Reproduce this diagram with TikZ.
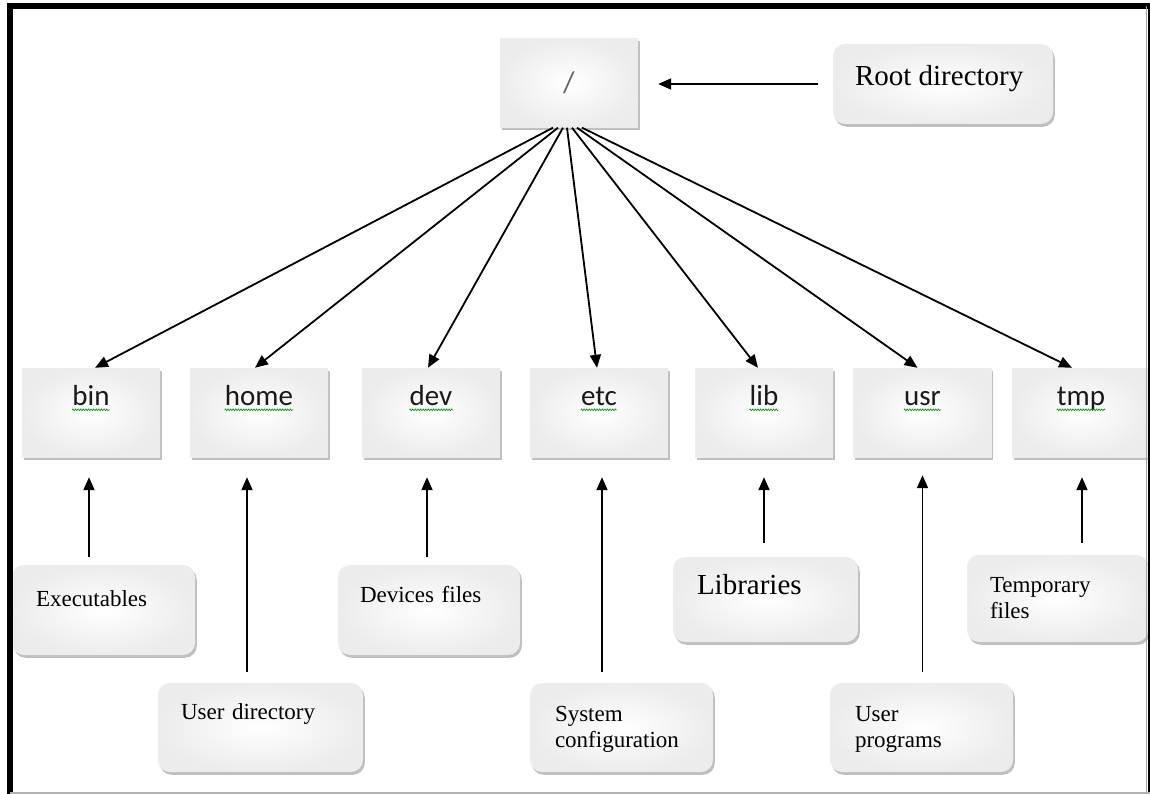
\documentclass[tikz,border=0pt]{standalone}
\usepackage{fontspec}
\setmainfont{Liberation Serif}
\newfontfamily\calib{Carlito}
\usetikzlibrary{arrows.meta,shadows,calc,decorations.pathmorphing}

\tikzset{
  boxfill/.style={shading=radial, inner color=white, outer color=gray!15, draw=none,
    drop shadow={shadow xshift=1.8pt, shadow yshift=-2.8pt, fill=gray!55, opacity=0.9}},
  dirbox/.style={boxfill, rectangle, inner sep=0pt, minimum width=138pt, minimum height=89pt},
  descbox/.style={boxfill, rectangle, rounded corners=12pt, inner sep=0pt},
  dirtxt/.style={font=\calib\fontsize{29}{33}\selectfont, text=black!90, inner sep=0pt, anchor=base},
  desctxt/.style={font=\fontsize{23}{26}\selectfont, inner sep=0pt, anchor=base west,
    text width=160pt, align=left},
  bigtxt/.style={font=\fontsize{29}{33}\selectfont, inner sep=0pt, anchor=base west},
  arr/.style={line width=1.8pt, -{Triangle[length=13pt,width=11pt]}},
  squig/.style={draw=green!55!black, line width=0.6pt, decorate,
    decoration={zigzag, segment length=2.6pt, amplitude=0.9pt}}
}

\begin{document}
\begin{tikzpicture}[x=1pt,y=-1pt]
\useasboundingbox (0,0) rectangle (1150,794);
\fill[white] (0,0) rectangle (1150,794);

% root and its caption
\node[dirbox, font=\calib\fontsize{30}{34}\selectfont, text=black!60] (root) at (569,83) {/};
\node[descbox, minimum width=220pt, minimum height=80pt] (rootdesc) at (943,84) {};
\node[bigtxt] (rootdescT) at ($(rootdesc.north west)+(22pt,-42pt)$) {Root directory};

% directory row
\foreach \n/\x/\t in {bin/91/bin, home/259/home, dev/431/dev, etc/599/etc,
                      lib/764/lib, usr/922.5/usr, tmp/1081/tmp}{
  \node[dirbox] (\n) at (\x,412.5) {};
  \node[dirtxt] (\n T) at ($(\n.north)+(0pt,-38pt)$) {\t};
  \draw[squig] ($(\n T.base west)+(0pt,-4pt)$) -- ($(\n T.base east)+(0pt,-4pt)$);
}

% descriptions
\node[descbox, minimum width=183pt, minimum height=90pt] (exe)   at (103.5,610) {};
\node[descbox, minimum width=205pt, minimum height=89pt] (udir)  at (260.5,727.5) {};
\node[descbox, minimum width=182pt, minimum height=90pt] (devd)  at (429,610) {};
\node[descbox, minimum width=183pt, minimum height=89pt] (sys)   at (621.5,727.5) {};
\node[descbox, minimum width=185pt, minimum height=85pt] (libd)  at (765.5,599.5) {};
\node[descbox, minimum width=183pt, minimum height=89pt] (uprog) at (921.5,727.5) {};
\node[descbox, minimum width=181pt, minimum height=87pt] (tmpd)  at (1057.5,598.5) {};

\node[desctxt] (exeT)   at ($(exe.north west)+(24pt,-42pt)$)   {Executables};
\node[desctxt] (udirT)  at ($(udir.north west)+(23pt,-37pt)$)  {User directory};
\node[desctxt] (devdT)  at ($(devd.north west)+(22pt,-38pt)$)  {Devices files};
\node[desctxt] (sysT)   at ($(sys.north west)+(25pt,-39pt)$)   {System\\configuration};
\node[bigtxt]  (libdT)  at ($(libd.north west)+(24pt,-38pt)$)  {Libraries};
\node[desctxt] (uprogT) at ($(uprog.north west)+(25pt,-39pt)$) {User\\programs};
\node[desctxt] (tmpdT)  at ($(tmpd.north west)+(23pt,-38pt)$)  {Temporary\\files};

% root to directories
\draw[arr] ($(root.south)+(-16pt,0pt)$) -- ($(bin.north)+(4pt,0pt)$);
\draw[arr] ($(root.south)+(-11pt,0pt)$) -- ($(home.north)+(-4pt,0pt)$);
\draw[arr] ($(root.south)+(-6pt,0pt)$)  -- ($(dev.north)+(-3pt,0pt)$);
\draw[arr] ($(root.south)+(-2pt,0pt)$)  -- ($(etc.north)+(-2pt,0pt)$);
\draw[arr] ($(root.south)+(3pt,0pt)$)   -- ($(lib.north)+(-6pt,0pt)$);
\draw[arr] ($(root.south)+(8pt,0pt)$)   -- ($(usr.north)+(-5pt,0pt)$);
\draw[arr] ($(root.south)+(13pt,0pt)$)  -- ($(tmp.north)+(-9pt,0pt)$);

% caption to root
\draw[arr, shorten <=15pt, shorten >=20pt] (rootdesc.west) -- (root.east |- rootdesc.west);

% descriptions to directories
\draw[arr, shorten <=8pt,  shorten >=20pt] ($(bin.south |- exe.north)+(-2pt,0pt)$)    -- ($(bin.south)+(-2pt,0pt)$);
\draw[arr, shorten <=11pt, shorten >=20pt] ($(home.south |- udir.north)+(-12pt,0pt)$) -- ($(home.south)+(-12pt,0pt)$);
\draw[arr, shorten <=8pt,  shorten >=20pt] ($(dev.south |- devd.north)+(-4pt,0pt)$)   -- ($(dev.south)+(-4pt,0pt)$);
\draw[arr, shorten <=11pt, shorten >=20pt] ($(etc.south |- sys.north)+(3pt,0pt)$)     -- ($(etc.south)+(3pt,0pt)$);
\draw[arr, shorten <=14pt, shorten >=20pt] (lib.south |- libd.north) -- (lib.south);
\draw[arr, shorten <=11pt, shorten >=18pt] (usr.south |- uprog.north) -- (usr.south);
\draw[arr, shorten <=12pt, shorten >=20pt] ($(tmp.south |- tmpd.north)+(1pt,0pt)$)    -- ($(tmp.south)+(1pt,0pt)$);

% page frame
\draw[line width=6pt] (10,794) -- (10,6) -- (1150,6);
\draw[gray!70, line width=1pt] (1146.5,6) -- (1146.5,794);
\draw[line width=2.5pt] (1148.8,6) -- (1148.8,794);
\draw[gray!60, line width=2pt] (10,793) -- (1150,793);
\end{tikzpicture}
\end{document}
